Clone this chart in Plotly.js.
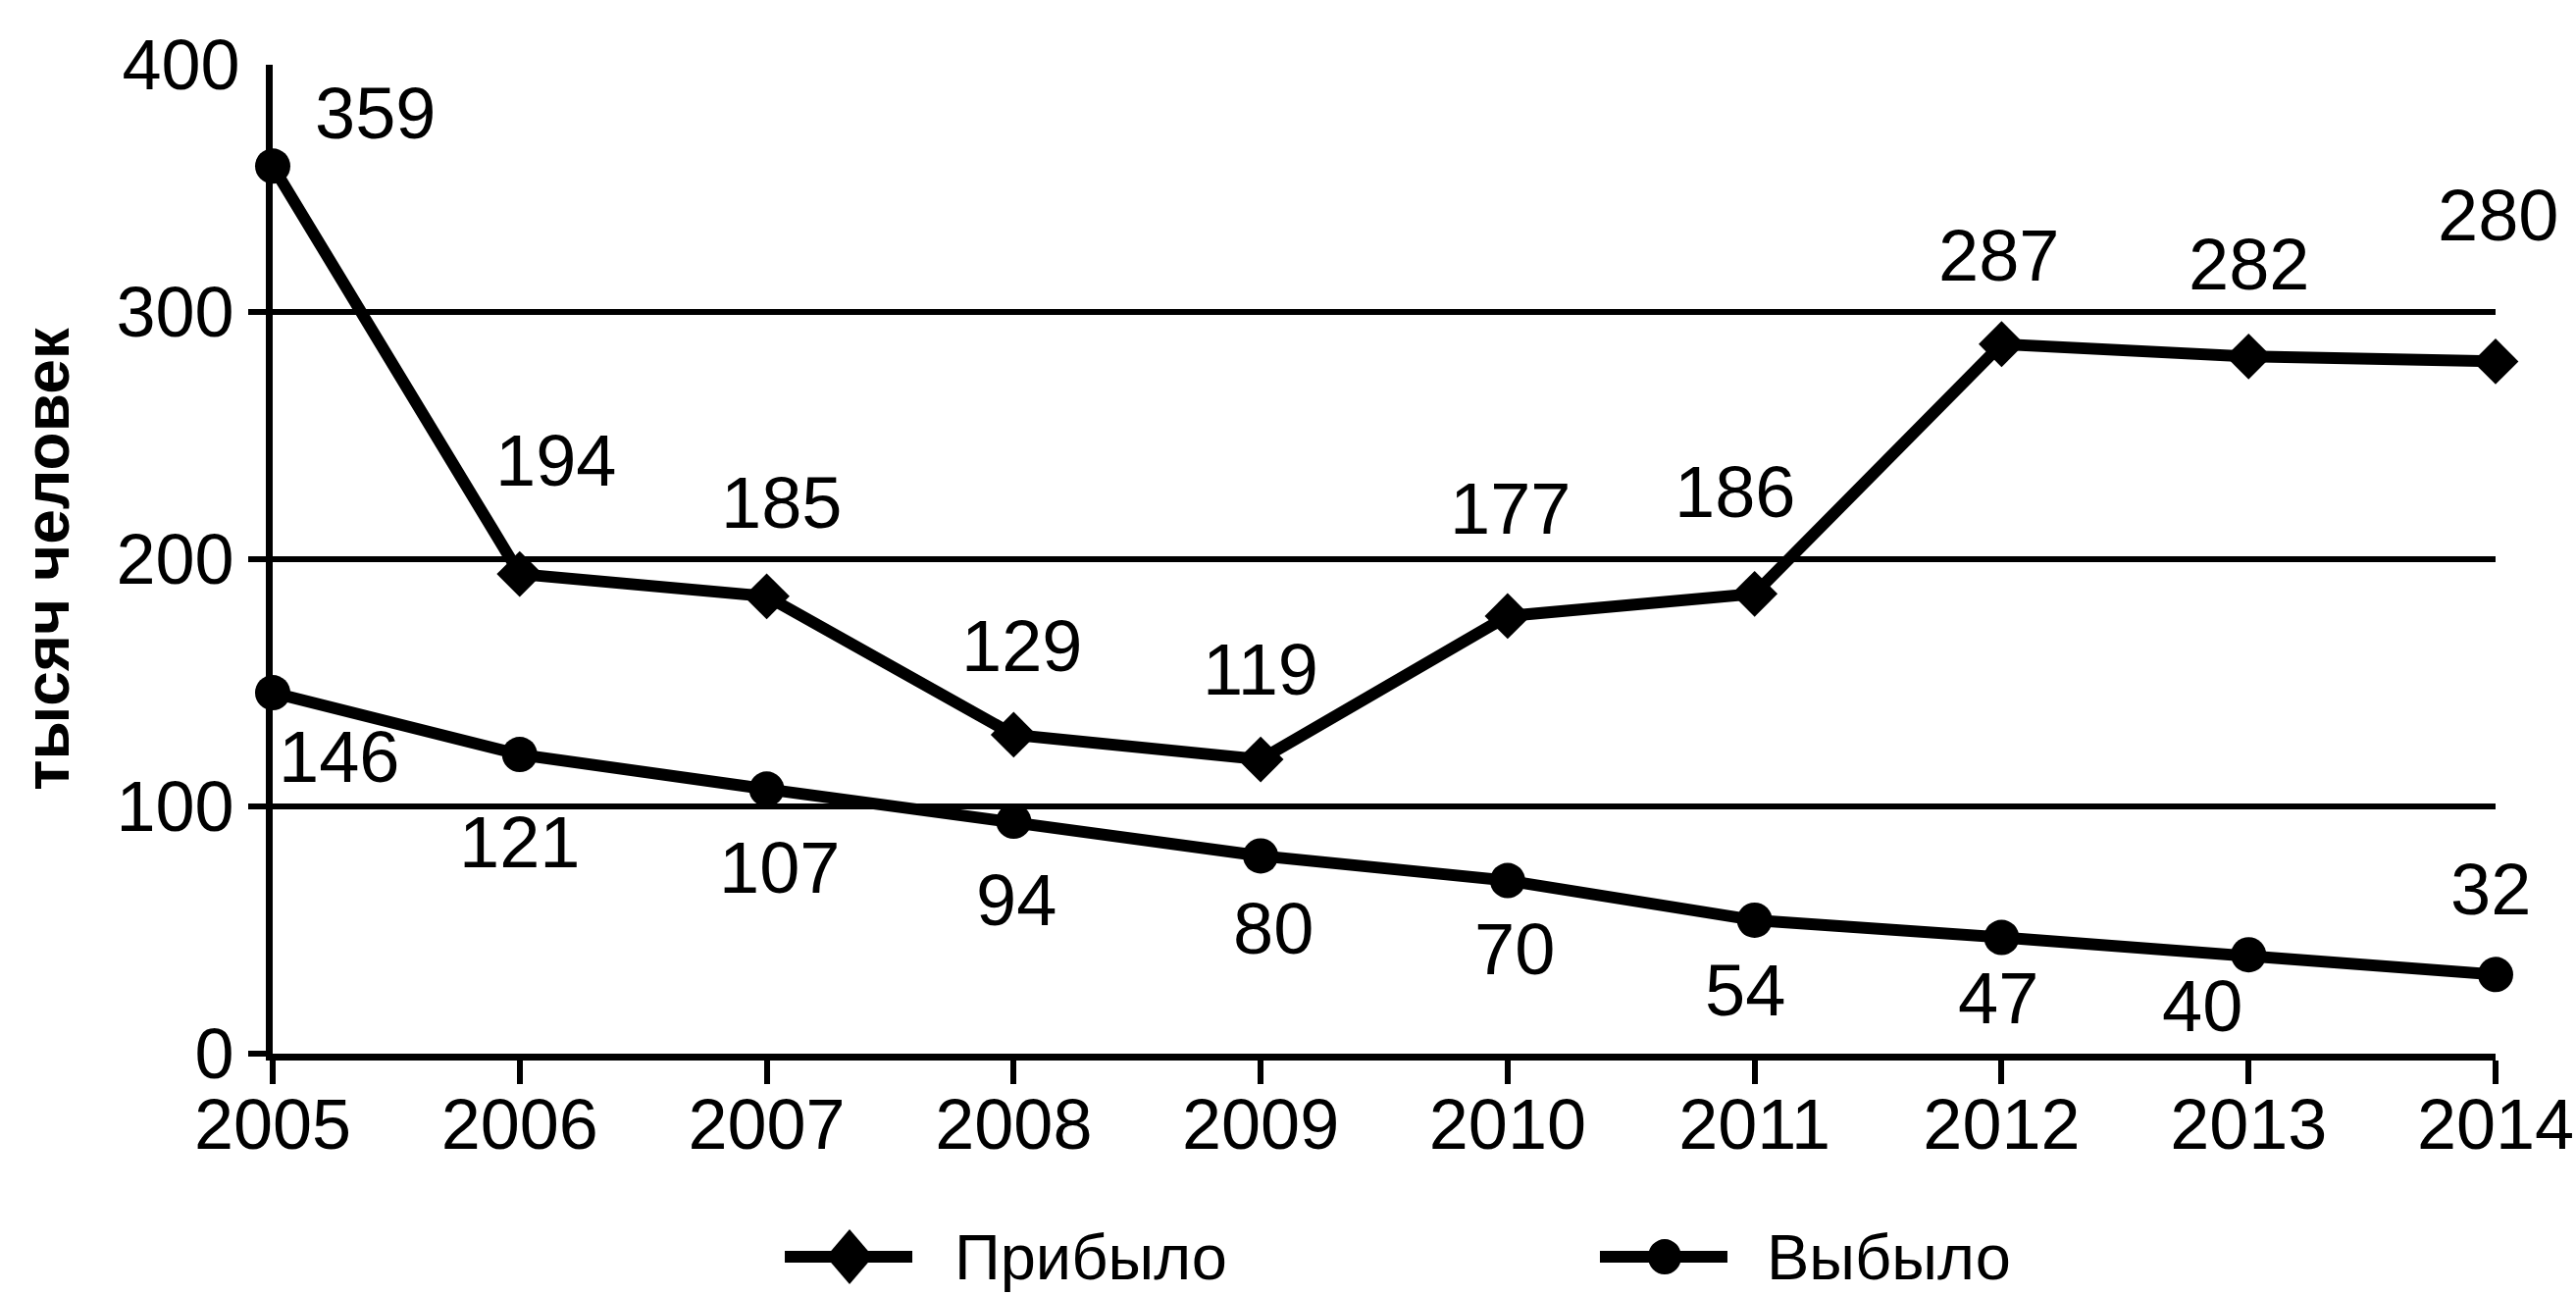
<!DOCTYPE html>
<html>
<head>
<meta charset="utf-8">
<script src="https://cdn.plot.ly/plotly-3.0.1.min.js"></script>
<style>
  html, body { margin: 0; padding: 0; background: #fff; }
  #chart { width: 2626px; height: 1320px; }
</style>
</head>
<body>
<div id="chart"></div>
<script>
// ---- data ----
var years = [2005, 2006, 2007, 2008, 2009, 2010, 2011, 2012, 2013, 2014];
var arrived = [359, 194, 185, 129, 119, 177, 186, 287, 282, 280];   // Прибыло
var departed = [146, 121, 107, 94, 80, 70, 54, 47, 40, 32];        // Выбыло
var seriesNames = ['Прибыло', 'Выбыло'];
var yTitle = 'тысяч человек';
var yTickVals = [0, 100, 200, 300];
var yTopTick = [400];

// ---- label offsets (px) for data labels ----
var arrivedLabelShift = [[104, 54], [37, 116], [15, 95], [8, 90], [0, 92], [3, 109], [-20, 104], [-3, 90], [0, 94], [2, 149]];
var departedLabelShift = [[67, -65], [0, -89], [13, -80], [3, -80], [13, -74], [7, -70], [-10, -72], [-3, -62], [-47, -52], [-5, 87]];

var FONT = '"Liberation Sans", Arial, sans-serif';
var LINE_W = 12;
var arrivedSymbols = years.map(function (y, i) { return i === 0 ? 'circle' : 'diamond'; });
var arrivedSizes = years.map(function (y, i) { return i === 0 ? 36 : 36; });

var traces = [
  {
    x: years, y: arrived, name: seriesNames[0], type: 'scatter', mode: 'lines+markers',
    line: { color: '#000', width: LINE_W },
    marker: { color: '#000', symbol: arrivedSymbols, size: arrivedSizes, opacity: 1, line: { width: 0 } },
    cliponaxis: false, showlegend: false, hoverinfo: 'x+y'
  },
  {
    x: years, y: departed, name: seriesNames[1], type: 'scatter', mode: 'lines+markers',
    line: { color: '#000', width: LINE_W },
    marker: { color: '#000', symbol: 'circle', size: 36, opacity: 1, line: { width: 0 } },
    cliponaxis: false, showlegend: false, hoverinfo: 'x+y'
  },
  {
    x: [years[0]], y: [yTopTick[0]], yaxis: 'y2', type: 'scatter', mode: 'markers',
    marker: { opacity: 0 }, showlegend: false, hoverinfo: 'skip'
  }
];

var annotations = [];
function addLabels(vals, shifts) {
  vals.forEach(function (v, i) {
    annotations.push({
      x: years[i], y: v, xref: 'x', yref: 'y', text: String(v), showarrow: false,
      xshift: shifts[i][0], yshift: shifts[i][1],
      font: { family: FONT, size: 74, color: '#000' }
    });
  });
}
addLabels(arrived, arrivedLabelShift);
addLabels(departed, departedLabelShift);

// ---- custom legend (drawn larger than Plotly's capped legend markers) ----
var legendY = -0.2054;
var legendItems = [
  { name: seriesNames[0], symX: 0.2595, textX: 0.3063, symbol: 'diamond' },
  { name: seriesNames[1], symX: 0.6262, textX: 0.6717, symbol: 'circle' }
];
var shapes = [];
legendItems.forEach(function (it) {
  shapes.push({
    type: 'line', xref: 'paper', yref: 'paper', xsizemode: 'pixel', ysizemode: 'pixel',
    xanchor: it.symX, yanchor: legendY, x0: -66, x1: 64, y0: 0, y1: 0,
    line: { color: '#000', width: LINE_W }
  });
  if (it.symbol === 'diamond') {
    shapes.push({
      type: 'path', xref: 'paper', yref: 'paper', xsizemode: 'pixel', ysizemode: 'pixel',
      xanchor: it.symX, yanchor: legendY, path: 'M0,-28 L24,0 L0,28 L-24,0 Z',
      fillcolor: '#000', line: { width: 0 }
    });
  } else {
    shapes.push({
      type: 'circle', xref: 'paper', yref: 'paper', xsizemode: 'pixel', ysizemode: 'pixel',
      xanchor: it.symX, yanchor: legendY, x0: -17, x1: 17, y0: -18, y1: 18,
      fillcolor: '#000', line: { width: 0 }
    });
  }
  annotations.push({
    x: it.textX, y: legendY, xref: 'paper', yref: 'paper', xanchor: 'left', yanchor: 'middle',
    text: it.name, showarrow: false, borderpad: 0, font: { family: FONT, size: 65, color: '#000' }
  });
});

var layout = {
  width: 2626, height: 1320,
  paper_bgcolor: '#fff', plot_bgcolor: '#fff',
  margin: { l: 278, r: 82, t: 66, b: 246 },
  font: { family: FONT, color: '#000' },
  showlegend: false,
  xaxis: {
    range: [2005, 2014], tickvals: years, ticktext: years.map(String),
    showgrid: false, zeroline: false,
    showline: true, linecolor: '#000', linewidth: 7,
    ticks: 'outside', ticklen: 24, tickwidth: 6, tickcolor: '#000',
    ticklabelstandoff: -20,
    tickfont: { family: FONT, size: 72, color: '#000' },
    fixedrange: true
  },
  yaxis: {
    range: [0, 400], tickvals: yTickVals, ticktext: yTickVals.map(String),
    showgrid: true, gridcolor: '#000', gridwidth: 6,
    zeroline: false,
    showline: true, linecolor: '#000', linewidth: 7,
    ticks: 'outside', ticklen: 18, tickwidth: 6, tickcolor: '#000',
    tickfont: { family: FONT, size: 72, color: '#000' },
    title: { text: yTitle, font: { family: FONT, size: 64, color: '#000', weight: 'bold' }, standoff: 30 },
    fixedrange: true
  },
  yaxis2: {
    overlaying: 'y', side: 'left', range: [0, 400], tickvals: yTopTick, ticktext: yTopTick.map(String),
    showgrid: false, zeroline: false, showline: false, ticks: 'outside', ticklen: 18, tickcolor: 'rgba(0,0,0,0)',
    tickfont: { family: FONT, size: 72, color: '#000' }, fixedrange: true
  },
  shapes: shapes,
  annotations: annotations
};

Plotly.newPlot('chart', traces, layout, { displayModeBar: false, staticPlot: true });
</script>
</body>
</html>
